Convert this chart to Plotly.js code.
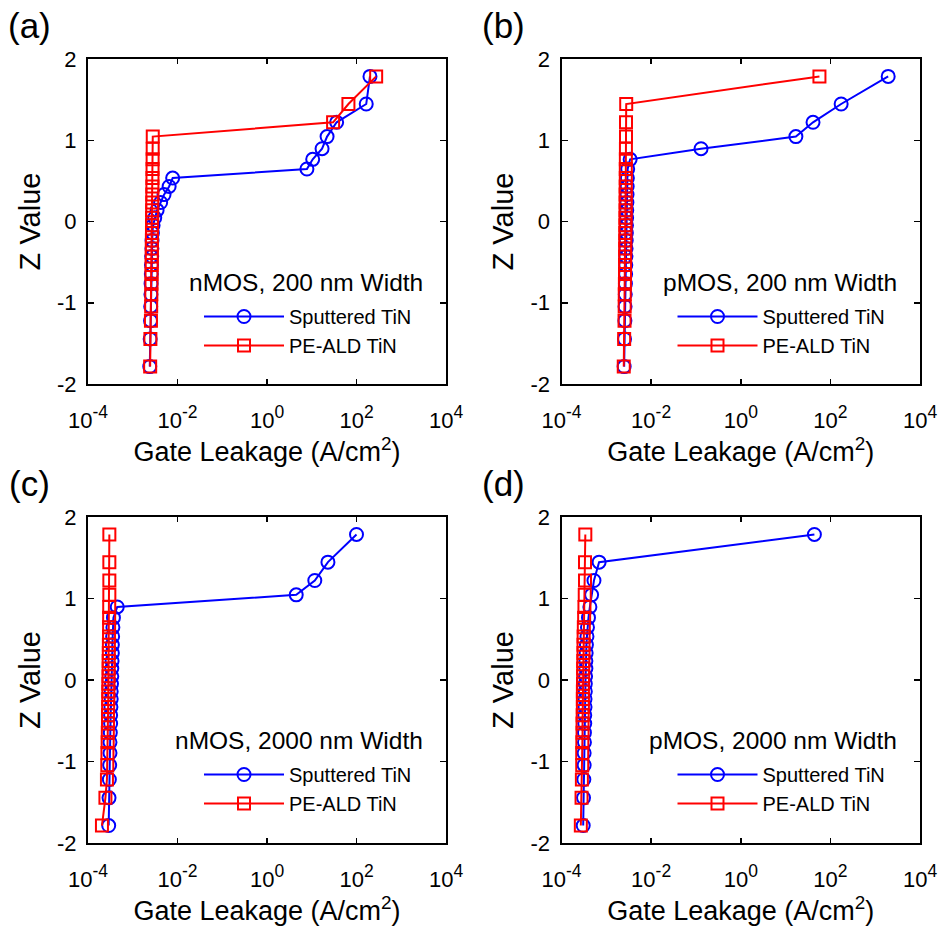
<!DOCTYPE html>
<html><head><meta charset="utf-8">
<script src="https://cdn.plot.ly/plotly-3.0.1.min.js"></script>
<style>html,body{margin:0;padding:0;background:#fff}</style>
</head><body><div id="chart" style="width:940px;height:929px"></div>
<script>
// Normal-probability Z values (shared by every series)
const zValue = [-1.786,-1.446,-1.221,-1.045,-0.896,-0.765,-0.646,-0.535,-0.431,-0.331,-0.234,-0.140,-0.046,
                0.046,0.140,0.234,0.331,0.431,0.535,0.646,0.765,0.896,1.045,1.221,1.446,1.786];

// (a) nMOS, 200 nm
const sputA = [2.40e-3,2.45e-3,2.50e-3,2.52e-3,2.55e-3,2.57e-3,2.60e-3,2.62e-3,2.65e-3,2.68e-3,2.70e-3,2.75e-3,2.85e-3,
               3.1e-3,3.5e-3,4.2e-3,5.0e-3,6.5e-3,7.8e-3,7.8,10.5,17,22,36,165,200];
const aldA  = [2.45e-3,2.48e-3,2.55e-3,2.58e-3,2.60e-3,2.62e-3,2.63e-3,2.65e-3,2.66e-3,2.67e-3,2.68e-3,2.69e-3,2.70e-3,
               2.71e-3,2.72e-3,2.73e-3,2.74e-3,2.75e-3,2.76e-3,2.77e-3,2.78e-3,2.79e-3,2.80e-3,30,66,275];
// (b) pMOS, 200 nm
const sputB = [2.50e-3,2.55e-3,2.60e-3,2.62e-3,2.65e-3,2.67e-3,2.70e-3,2.72e-3,2.74e-3,2.76e-3,2.78e-3,2.80e-3,2.82e-3,
               2.84e-3,2.86e-3,2.88e-3,2.90e-3,2.92e-3,2.95e-3,3.0e-3,3.4e-3,0.13,17,41,174,1950];
const aldB  = [2.45e-3,2.50e-3,2.55e-3,2.57e-3,2.58e-3,2.60e-3,2.61e-3,2.62e-3,2.63e-3,2.64e-3,2.65e-3,2.66e-3,2.67e-3,
               2.68e-3,2.69e-3,2.70e-3,2.70e-3,2.71e-3,2.72e-3,2.72e-3,2.73e-3,2.74e-3,2.75e-3,2.75e-3,2.78e-3,57];
// (c) nMOS, 2000 nm
const sputC = [2.90e-4,2.95e-4,3.00e-4,3.05e-4,3.10e-4,3.10e-4,3.15e-4,3.20e-4,3.20e-4,3.25e-4,3.30e-4,3.30e-4,3.35e-4,
               3.40e-4,3.40e-4,3.45e-4,3.50e-4,3.50e-4,3.55e-4,3.60e-4,3.70e-4,4.5e-4,4.5,11.7,23,100];
const aldC  = [2.05e-4,2.45e-4,2.65e-4,2.70e-4,2.72e-4,2.75e-4,2.77e-4,2.80e-4,2.80e-4,2.82e-4,2.84e-4,2.85e-4,2.86e-4,
               2.88e-4,2.90e-4,2.90e-4,2.92e-4,2.93e-4,2.95e-4,2.96e-4,2.97e-4,2.98e-4,3.00e-4,3.00e-4,3.00e-4,3.00e-4];
// (d) pMOS, 2000 nm
const sputD = [3.05e-4,3.10e-4,3.15e-4,3.20e-4,3.20e-4,3.25e-4,3.25e-4,3.30e-4,3.30e-4,3.35e-4,3.35e-4,3.40e-4,3.40e-4,
               3.45e-4,3.50e-4,3.50e-4,3.55e-4,3.60e-4,3.70e-4,3.80e-4,4.0e-4,4.3e-4,4.7e-4,5.3e-4,6.9e-4,44];
const aldD  = [2.70e-4,2.80e-4,2.85e-4,2.90e-4,2.90e-4,2.92e-4,2.95e-4,2.95e-4,2.97e-4,3.00e-4,3.00e-4,3.00e-4,3.02e-4,
               3.05e-4,3.05e-4,3.07e-4,3.10e-4,3.10e-4,3.12e-4,3.15e-4,3.20e-4,3.25e-4,3.30e-4,3.35e-4,3.35e-4,3.40e-4];

const seriesNames = ['Sputtered TiN','PE-ALD TiN'];
const panelLabels = ['(a)','(b)','(c)','(d)'];
const panelNotes  = ['nMOS, 200 nm Width','pMOS, 200 nm Width','nMOS, 2000 nm Width','pMOS, 2000 nm Width'];
const xTickVals = [1e-4,1e-2,1,1e2,1e4];
const xTickExp  = ['-4','-2','0','2','4'];
const yTickVals = [-2,-1,0,1,2];
const yTickText = ['-2','-1','0','1','2'];
const xTitle = 'Gate Leakage (A/cm<sup>2</sup>)';
const yTitle = 'Z Value';

const xTickText = xTickExp.map(e => '<span style="font-size:22px">10</span><sup>' + e + '</sup>');
const sputSets = [sputA,sputB,sputC,sputD];
const aldSets  = [aldA,aldB,aldC,aldD];

const W = 940, H = 929;
const FONT = 'Liberation Sans, Arial, sans-serif';
// pixel boxes of the four plot areas [left, right, top, bottom]
const boxes = [[88,446,59,384],[561.5,920,59,384],[88,446,517,843],[561.5,920,517,843]];

const BLUE = '#0000FF', RED = '#FF0000';
const traces = [];
const layout = {
  width: W, height: H, margin: {l:0,r:0,t:0,b:0},
  paper_bgcolor: '#fff', plot_bgcolor: '#fff',
  font: {family: FONT, color: '#000', size: 20},
  annotations: [], showlegend: true
};

boxes.forEach((b, i) => {
  const n = i + 1;
  const xa = 'xaxis' + (n === 1 ? '' : n), ya = 'yaxis' + (n === 1 ? '' : n);
  const xr = 'x' + (n === 1 ? '' : n), yr = 'y' + (n === 1 ? '' : n);
  const lg = 'legend' + (n === 1 ? '' : n);
  layout[xa] = {
    domain: [b[0]/W, b[1]/W], anchor: yr, type: 'log', range: [-4, 4],
    tickmode: 'array', tickvals: xTickVals, ticktext: xTickText,
    ticks: 'inside', ticklen: 5, tickwidth: 1.5, tickcolor: '#000',
    showline: true, linewidth: 2, linecolor: '#000', mirror: 'ticks',
    showgrid: false, zeroline: false, fixedrange: true,
    ticklabelstandoff: 12,
    tickfont: {family: FONT, size: 25, color: '#000'},
    title: {text: xTitle, font: {family: FONT, size: 27, color: '#000'}, standoff: 3}
  };
  layout[ya] = {
    domain: [1 - b[3]/H, 1 - b[2]/H], anchor: xr, range: [-2, 2],
    tickmode: 'array', tickvals: yTickVals, ticktext: yTickText,
    ticks: 'inside', ticklen: 6, tickwidth: 1.5, tickcolor: '#000',
    showline: true, linewidth: 2, linecolor: '#000', mirror: 'ticks',
    showgrid: false, zeroline: false, fixedrange: true,
    ticklabelstandoff: 5,
    tickfont: {family: FONT, size: 22, color: '#000'},
    title: {text: yTitle, font: {family: FONT, size: 29, color: '#000'}, standoff: 8}
  };
  traces.push({
    type: 'scatter', mode: 'lines+markers', name: seriesNames[0],
    x: sputSets[i], y: zValue, xaxis: xr, yaxis: yr, legend: lg,
    line: {color: BLUE, width: 2},
    marker: {symbol: 'circle-open', size: 13, color: BLUE, line: {color: BLUE, width: 2}}
  });
  traces.push({
    type: 'scatter', mode: 'lines+markers', name: seriesNames[1],
    x: aldSets[i], y: zValue, xaxis: xr, yaxis: yr, legend: lg,
    line: {color: RED, width: 2},
    marker: {symbol: 'square-open', size: 12, color: RED, line: {color: RED, width: 2}}
  });
  const lx = b[0] + 111, ly = b[2] + 238;
  layout[lg] = {
    x: lx / W, y: 1 - ly / H, xanchor: 'left', yanchor: 'top',
    bgcolor: 'rgba(0,0,0,0)', borderwidth: 0, itemwidth: 80,
    font: {family: FONT, size: 20, color: '#000'}, tracegroupgap: 0
  };
  layout.annotations.push({
    xref: 'paper', yref: 'paper', x: (b[1] - 21)/W, y: 1 - (b[2] + 223)/H,
    xanchor: 'right', yanchor: 'middle', showarrow: false, text: panelNotes[i],
    font: {family: FONT, size: 24.5, color: '#000'}
  });
  layout.annotations.push({
    xref: 'paper', yref: 'paper', x: (b[0] - 58)/W, y: 1 - (b[2] - 34)/H,
    xanchor: 'center', yanchor: 'middle', showarrow: false, text: panelLabels[i],
    font: {family: FONT, size: 35, color: '#000'}
  });
});

Plotly.newPlot('chart', traces, layout, {displayModeBar: false, staticPlot: true});
</script></body></html>
